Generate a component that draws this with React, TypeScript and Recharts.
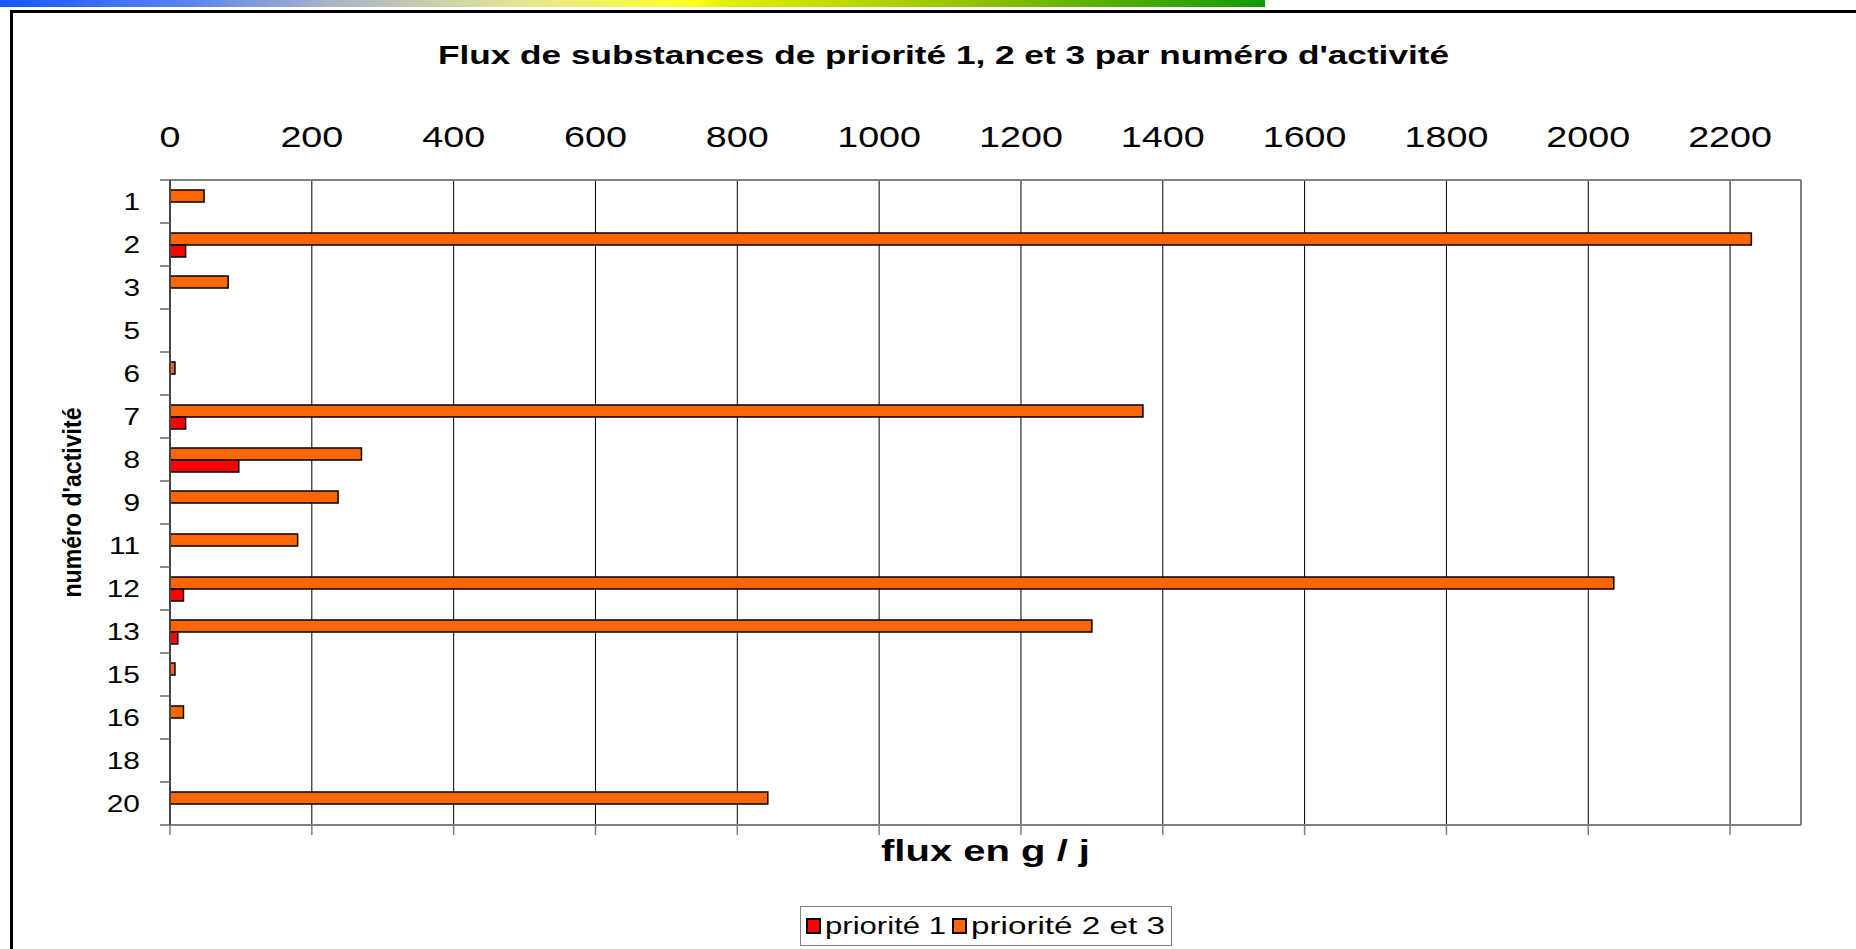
import React from "react";
import {
  BarChart,
  Bar,
  XAxis,
  YAxis,
  CartesianGrid,
  Legend,
  ReferenceLine,
  Label,
} from "recharts";

// activity numbers (category axis, top to bottom)
const categories = ["1", "2", "3", "5", "6", "7", "8", "9", "11", "12", "13", "15", "16", "18", "20"];
// flux in g/j
const priorite1 = [0, 22, 0, 0, 0, 22, 97, 0, 0, 19, 11, 0, 0, 0, 0];
const priorite23 = [48, 2230, 82, 0, 7, 1372, 270, 237, 180, 2036, 1300, 7, 19, 0, 843];
const xTicks = [0, 200, 400, 600, 800, 1000, 1200, 1400, 1600, 1800, 2000, 2200];
const xMax = 2300;

const FONT = "'Liberation Sans', Arial, sans-serif";
const RED = "#FF0000";
const ORANGE = "#FF6600";

const data = categories.map((cat, i) => ({
  cat,
  p1: priorite1[i],
  p23: priorite23[i],
}));

const NoLabel = () => <g />;

const TopTick = (props: any) => {
  const { x, y, payload } = props;
  return (
    <g transform={`translate(${x},${y - 33})`}>
      <text transform="scale(1.3,1)" textAnchor="middle" fontSize={29} fontFamily={FONT} fill="#000">
        {payload.value}
      </text>
    </g>
  );
};

// category label + tick marks on the category boundaries (Excel style)
const CatTick = (props: any) => {
  const { x, y, payload, index, visibleTicksCount } = props;
  const half = payload.offset || 0;
  const isLast = index === visibleTicksCount - 1;
  return (
    <g>
      <line x1={x + 20} x2={x + 30} y1={y - half} y2={y - half} stroke="#666" strokeWidth={1.5} />
      {isLast && <line x1={x + 20} x2={x + 30} y1={y + half} y2={y + half} stroke="#666" strokeWidth={1.5} />}
      <g transform={`translate(${x},${y})`}>
        <text transform="scale(1.3,1)" textAnchor="end" dy="0.36em" fontSize={23} fontFamily={FONT} fill="#000">
          {payload.value}
        </text>
      </g>
    </g>
  );
};

const LegendBox = () => (
  <svg width={372} height={40} style={{ display: "block" }}>
    <rect x={0.5} y={0.5} width={371} height={39} fill="#fff" stroke="#808080" />
    <rect x={7} y={13} width={13} height={14} fill={RED} stroke="#000" strokeWidth={2} />
    <text x={25} y={28} fontSize={23} fontFamily={FONT} textLength={121} lengthAdjust="spacingAndGlyphs">
      priorité 1
    </text>
    <rect x={153} y={13} width={13} height={14} fill={ORANGE} stroke="#000" strokeWidth={2} />
    <text x={171} y={28} fontSize={23} fontFamily={FONT} textLength={194} lengthAdjust="spacingAndGlyphs">
      priorité 2 et 3
    </text>
  </svg>
);

export default function App() {
  return (
    <div style={{ position: "absolute", left: 0, top: 0, width: 1856, height: 949, overflow: "hidden", background: "#fff" }}>
      {/* top gradient strip */}
      <div
        style={{
          position: "absolute",
          left: 0,
          top: 0,
          width: 1265,
          height: 7,
          background:
            "linear-gradient(to right, #1458ff 0%, #5c84f0 15%, #a8b4c8 26%, #e8e890 42%, #ffff20 55%, #e4f000 57%, #98c400 76%, #109a00 100%)",
        }}
      />
      {/* outer frame */}
      <div
        style={{
          position: "absolute",
          left: 10,
          top: 10,
          width: 1900,
          height: 1000,
          borderTop: "3px solid #000",
          borderLeft: "3px solid #000",
        }}
      />
      <svg style={{ position: "absolute", left: 0, top: 0, pointerEvents: "none" }} width={1856} height={100}>
        <text
          x={438}
          y={64}
          fontSize={25}
          fontWeight="bold"
          fontFamily={FONT}
          textLength={1011}
          lengthAdjust="spacingAndGlyphs"
        >
          Flux de substances de priorité 1, 2 et 3 par numéro d'activité
        </text>
      </svg>
      <div style={{ position: "absolute", left: 0, top: 0 }}>
        <BarChart
          width={1856}
          height={949}
          data={data}
          layout="vertical"
          margin={{ top: 110, right: 55, bottom: 112, left: 110 }}
          barSize={12}
          barGap={0}
        >
          <CartesianGrid horizontal={false} stroke="#000" strokeWidth={1} xAxisId="top" yAxisId="cat" />
          <XAxis
            xAxisId="top"
            orientation="top"
            type="number"
            domain={[0, xMax]}
            ticks={xTicks}
            allowDataOverflow
            height={70}
            tickLine={false}
            tickSize={0}
            tickMargin={0}
            axisLine={{ stroke: "#808080", strokeWidth: 2 }}
            tick={<TopTick />}
          />
          <XAxis
            xAxisId="bottom"
            orientation="bottom"
            type="number"
            domain={[0, xMax]}
            ticks={xTicks}
            allowDataOverflow
            height={12}
            tickSize={10}
            tickLine={{ stroke: "#808080", strokeWidth: 1.5 }}
            tick={<NoLabel />}
            axisLine={{ stroke: "#808080", strokeWidth: 2 }}
          >
            <Label
              content={(p: any) => {
                const vb = p.viewBox || {};
                return (
                  <text
                    x={vb.x + vb.width / 2}
                    y={vb.y + 36}
                    textAnchor="middle"
                    fontSize={29}
                    fontWeight="bold"
                    fontFamily={FONT}
                    textLength={209}
                    lengthAdjust="spacingAndGlyphs"
                  >
                    flux en g / j
                  </text>
                );
              }}
            />
          </XAxis>
          <YAxis
            yAxisId="cat"
            orientation="left"
            type="category"
            dataKey="cat"
            width={60}
            tickLine={false}
            axisLine={{ stroke: "#444", strokeWidth: 2 }}
            tickSize={0}
            tickMargin={30}
            interval={0}
            tick={<CatTick />}
          >
            <Label
              content={(p: any) => {
                const vb = p.viewBox || {};
                const cx = vb.x - 38;
                const cy = vb.y + vb.height / 2;
                return (
                  <text
                    x={cx}
                    y={cy}
                    transform={`rotate(-90 ${cx} ${cy})`}
                    textAnchor="middle"
                    dy="0.35em"
                    fontSize={25}
                    fontWeight="bold"
                    fontFamily={FONT}
                    textLength={190}
                    lengthAdjust="spacingAndGlyphs"
                  >
                    numéro d'activité
                  </text>
                );
              }}
            />
          </YAxis>
          <ReferenceLine x={xMax} xAxisId="top" yAxisId="cat" stroke="#808080" strokeWidth={2} />
          <Legend
            layout="horizontal"
            verticalAlign="middle"
            align="center"
            wrapperStyle={{ left: 800, top: 906, width: 372, height: 40 }}
            content={() => <LegendBox />}
          />
          <Bar
            dataKey="p23"
            name="priorité 2 et 3"
            xAxisId="top"
            yAxisId="cat"
            fill={ORANGE}
            stroke="#000"
            strokeWidth={1.5}
            isAnimationActive={false}
          />
          <Bar
            dataKey="p1"
            name="priorité 1"
            xAxisId="top"
            yAxisId="cat"
            fill={RED}
            stroke="#000"
            strokeWidth={1.5}
            isAnimationActive={false}
          />
        </BarChart>
      </div>
    </div>
  );
}
